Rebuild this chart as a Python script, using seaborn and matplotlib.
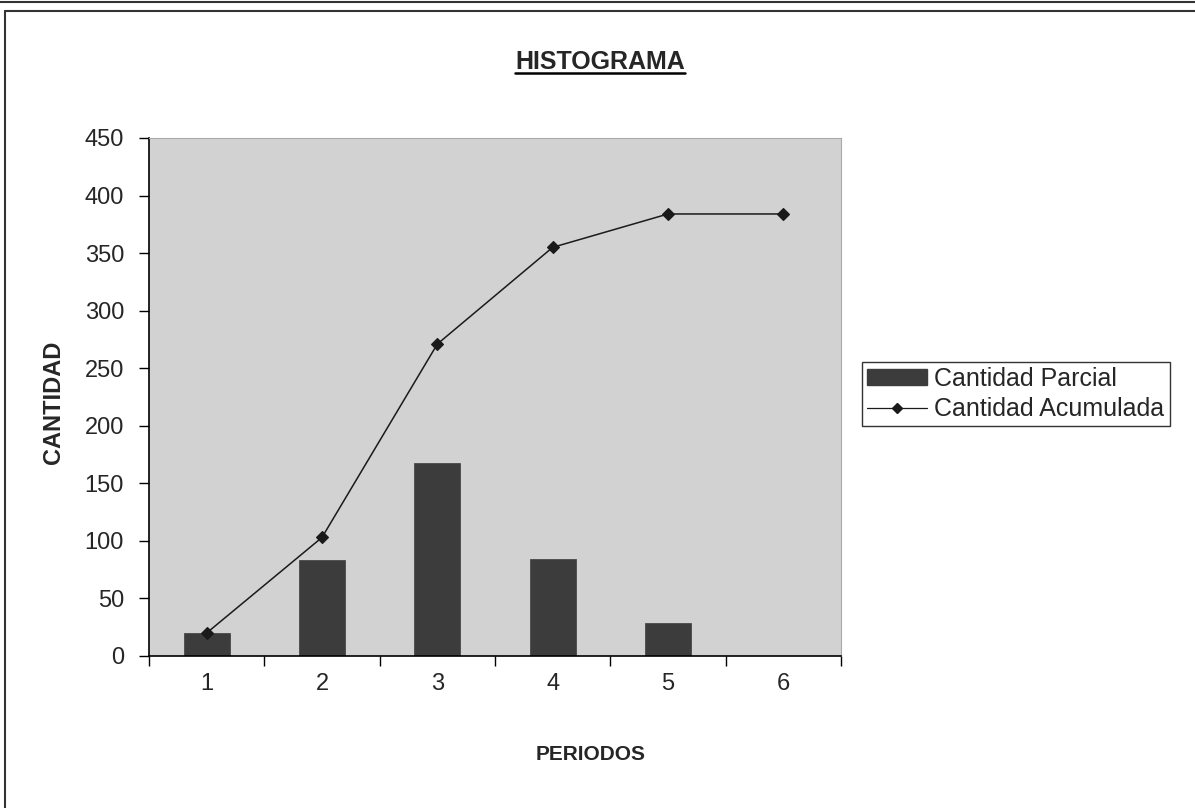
# histograma: cantidad parcial (barras) y acumulada (linea) por periodo

import matplotlib
matplotlib.use('Agg')
import matplotlib.pyplot as plt
from matplotlib.lines import Line2D
from matplotlib.patches import Patch
import seaborn as sns

# data
periodos = ['1', '2', '3', '4', '5', '6']
cantidad_parcial = [20, 83, 168, 84, 29, 0]
cantidad_acumulada = [20, 103, 271, 355, 384, 384]
y_ticks = [0, 50, 100, 150, 200, 250, 300, 350, 400, 450]

sns.set_theme(style='white')
plt.rcParams['font.family'] = ['Liberation Sans', 'DejaVu Sans']

fig = plt.figure(figsize=(11.95, 8.08), dpi=100)
ax = fig.add_axes([149 / 1195, 1 - 656 / 808, 692 / 1195, 518 / 808])
ax.set_facecolor('#d2d2d2')

bar_color = '#3c3c3c'
sns.barplot(x=periodos, y=cantidad_parcial, color=bar_color, width=0.4,
            saturation=1, edgecolor=bar_color, linewidth=0.5, ax=ax)
sns.pointplot(x=periodos, y=cantidad_acumulada, color='#1a1a1a',
              marker='D', markersize=6, linewidth=1.1, ax=ax)

ax.set_ylim(0, 450)
ax.set_xlim(-0.5, 5.5)
ax.set_yticks(y_ticks)
ax.set_yticklabels([str(v) for v in y_ticks], fontsize=17)

# category labels in the middle, tick marks on the boundaries
ax.set_xticks([i + 0.5 for i in range(-1, 6)])
ax.set_xticklabels([])
ax.set_xticks(range(len(periodos)), minor=True)
ax.set_xticklabels(periodos, minor=True, fontsize=17)
ax.tick_params(axis='x', which='major', direction='out', length=7, width=1,
               color='black', bottom=True)
ax.tick_params(axis='x', which='minor', length=0, pad=12)
ax.tick_params(axis='y', direction='out', length=7, width=1, color='black',
               left=True, pad=11)

for side in ['left', 'bottom']:
    ax.spines[side].set_color('black')
    ax.spines[side].set_linewidth(1.2)
for side in ['top', 'right']:
    ax.spines[side].set_color('#aaaaaa')
    ax.spines[side].set_linewidth(0.8)

ax.set_xlabel('')
ax.set_ylabel('CANTIDAD', fontsize=17, fontweight='bold')
ax.yaxis.set_label_coords(-0.121, 0.49)

fig.text(600 / 1195, 1 - 62 / 808, 'HISTOGRAMA', ha='center', va='center',
         fontsize=18, fontweight='bold')
# underline of the title
fig.add_artist(Line2D([515 / 1195, 685 / 1195], [1 - 73 / 808, 1 - 73 / 808],
                      color='black', lw=1.8))
fig.text(591 / 1195, 1 - 755 / 808, 'PERIODOS', ha='center', va='center',
         fontsize=15, fontweight='bold')

# legend
handles = [Patch(facecolor=bar_color, edgecolor=bar_color),
           Line2D([0], [0], color='#1a1a1a', lw=0.9, marker='D', markersize=5)]
labels = ['Cantidad Parcial', 'Cantidad Acumulada']
leg = fig.legend(handles, labels, loc='lower left',
                 bbox_to_anchor=(862 / 1195, 1 - 426 / 808),
                 fontsize=18, frameon=True, fancybox=False, shadow=False,
                 edgecolor='black', handlelength=2.4, handleheight=0.6,
                 handletextpad=0.3, labelspacing=0.25, borderpad=0.2,
                 borderaxespad=0)
leg.get_frame().set_linewidth(1)

# outer frame of the sheet
frame_kw = dict(color='#333333', lw=1.5)
fig.add_artist(Line2D([0, 1], [1 - 1.5 / 808, 1 - 1.5 / 808], **frame_kw))
fig.add_artist(Line2D([5 / 1195, 1], [1 - 11 / 808, 1 - 11 / 808], **frame_kw))
fig.add_artist(Line2D([5 / 1195, 5 / 1195], [0, 1 - 11 / 808], **frame_kw))

plt.savefig('out.png', dpi=100)
